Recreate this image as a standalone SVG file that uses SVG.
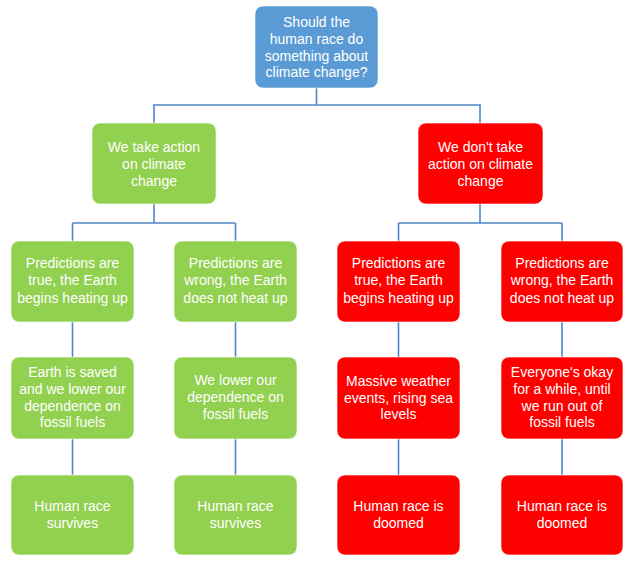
<svg xmlns="http://www.w3.org/2000/svg" width="640" height="567" viewBox="0 0 640 567">
<style>
.box{stroke:#ffffff;stroke-opacity:0.6;stroke-width:1}
.blue{fill:#5b9bd5}
.green{fill:#92d050}
.red{fill:#ff0000}
text{font-family:"Liberation Sans",Arial,sans-serif;font-size:14px;fill:#ffffff;text-anchor:middle}
.conn{fill:none;stroke:#4f88c6;stroke-width:1.6}
</style>
<rect width="640" height="567" fill="#ffffff"/>
<g id="connectors" class="conn">
<path d="M316.5,88 V105 M153,105 H481 M154,105 V123 M480,105 V123"/>
<path d="M154,204 V223 M72.5,223 H235.5 M72.5,223 V241 M235.5,223 V241"/>
<path d="M480,204 V223 M398.5,223 H562 M398.5,223 V241 M562,223 V241"/>
<path d="M72.5,322 V357 M235.5,322 V357 M398.5,322 V357 M562,322 V357"/>
<path d="M72.5,439 V475 M235.5,439 V475 M398.5,439 V475 M562,439 V475"/>
</g>
<g id="n0"><rect class="box blue" x="255" y="6" width="123" height="82" rx="8"/>
<text x="316.5" y="27">Should the</text><text x="316.5" y="44">human race do</text><text x="316.5" y="61">something about</text><text x="316.5" y="77">climate change?</text></g>
<g id="n1"><rect class="box green" x="92" y="123" width="124" height="81" rx="8"/>
<text x="154" y="152">We take action</text><text x="154" y="169">on climate</text><text x="154" y="186">change</text></g>
<g id="n2"><rect class="box red" x="418" y="123" width="125" height="81" rx="8"/>
<text x="480.5" y="152">We don't take</text><text x="480.5" y="169">action on climate</text><text x="480.5" y="186">change</text></g>
<g id="n3"><rect class="box green" x="11" y="241" width="123" height="81" rx="8"/>
<text x="72.5" y="268">Predictions are</text><text x="72.5" y="285">true, the Earth</text><text x="72.5" y="303">begins heating up</text></g>
<g id="n4"><rect class="box green" x="174" y="241" width="123" height="81" rx="8"/>
<text x="235.5" y="268">Predictions are</text><text x="235.5" y="285">wrong, the Earth</text><text x="235.5" y="303">does not heat up</text></g>
<g id="n5"><rect class="box red" x="337" y="241" width="123" height="81" rx="8"/>
<text x="398.5" y="268">Predictions are</text><text x="398.5" y="285">true, the Earth</text><text x="398.5" y="303">begins heating up</text></g>
<g id="n6"><rect class="box red" x="501" y="241" width="122" height="81" rx="8"/>
<text x="562" y="268">Predictions are</text><text x="562" y="285">wrong, the Earth</text><text x="562" y="303">does not heat up</text></g>
<g id="n7"><rect class="box green" x="11" y="357" width="123" height="82" rx="8"/>
<text x="72.5" y="377">Earth is saved</text><text x="72.5" y="394">and we lower our</text><text x="72.5" y="411">dependence on</text><text x="72.5" y="427">fossil fuels</text></g>
<g id="n8"><rect class="box green" x="174" y="357" width="123" height="82" rx="8"/>
<text x="235.5" y="385">We lower our</text><text x="235.5" y="402">dependence on</text><text x="235.5" y="419">fossil fuels</text></g>
<g id="n9"><rect class="box red" x="337" y="357" width="123" height="82" rx="8"/>
<text x="398.5" y="386">Massive weather</text><text x="398.5" y="403">events, rising sea</text><text x="398.5" y="419">levels</text></g>
<g id="n10"><rect class="box red" x="501" y="357" width="122" height="82" rx="8"/>
<text x="562" y="377">Everyone's okay</text><text x="562" y="394">for a while, until</text><text x="562" y="411">we run out of</text><text x="562" y="427">fossil fuels</text></g>
<g id="n11"><rect class="box green" x="11" y="475" width="123" height="80" rx="8"/>
<text x="72.5" y="511">Human race</text><text x="72.5" y="528">survives</text></g>
<g id="n12"><rect class="box green" x="174" y="475" width="123" height="80" rx="8"/>
<text x="235.5" y="511">Human race</text><text x="235.5" y="528">survives</text></g>
<g id="n13"><rect class="box red" x="337" y="475" width="123" height="80" rx="8"/>
<text x="398.5" y="511">Human race is</text><text x="398.5" y="528">doomed</text></g>
<g id="n14"><rect class="box red" x="501" y="475" width="122" height="80" rx="8"/>
<text x="562" y="511">Human race is</text><text x="562" y="528">doomed</text></g>
</svg>
